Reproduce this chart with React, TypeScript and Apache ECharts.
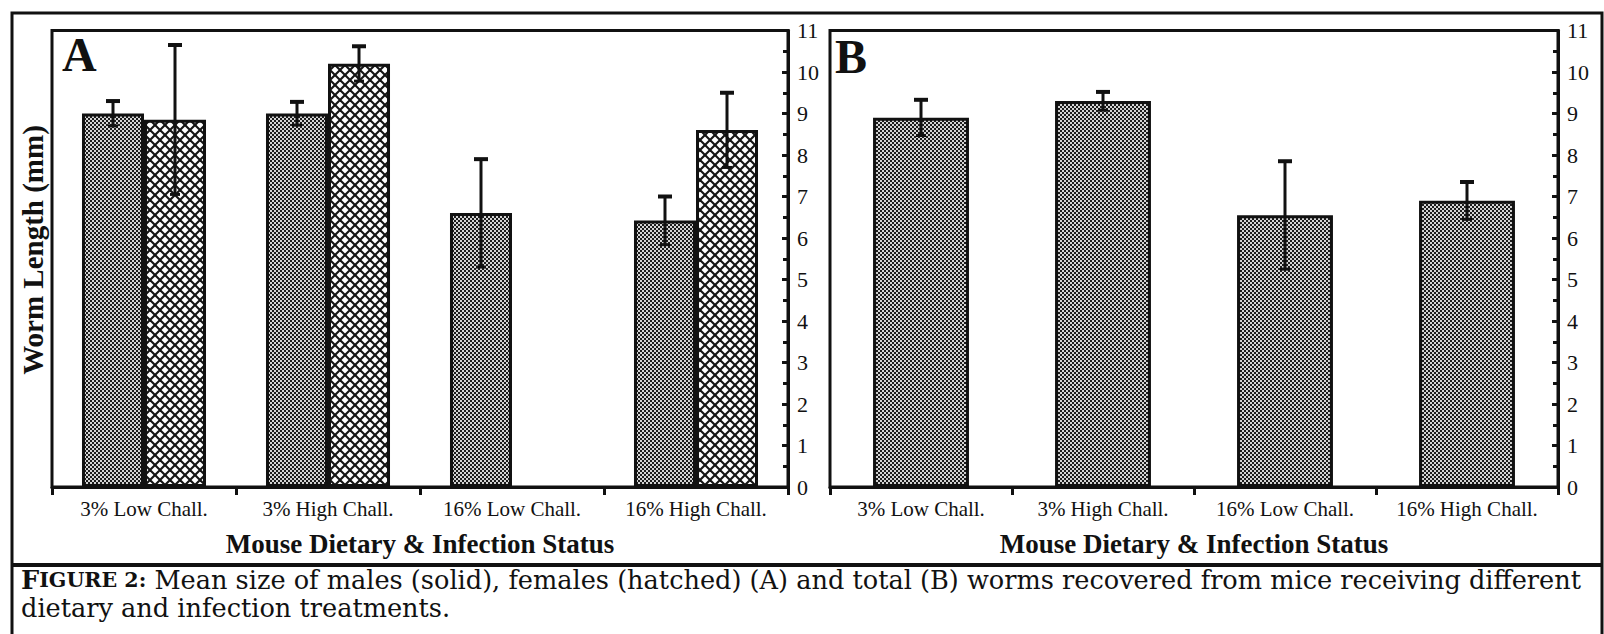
import React, { useEffect, useRef } from "react";
import * as echarts from "echarts";

const categories = ["3% Low Chall.", "3% High Chall.", "16% Low Chall.", "16% High Chall."];
const maleMean: (number | null)[] = [9.0, 9.0, 6.6, 6.42];
const maleErr: (number | null)[] = [0.3, 0.28, 1.3, 0.58];
const femaleMean: (number | null)[] = [8.85, 10.2, null, 8.6];
const femaleErr: (number | null)[] = [1.8, 0.42, null, 0.9];
const totalMean: (number | null)[] = [8.9, 9.3, 6.55, 6.9];
const totalErr: (number | null)[] = [0.43, 0.22, 1.3, 0.45];
const yMin = 0;
const yMax = 11;
const yInterval = 1;
const xTitle = "Mouse Dietary & Infection Status";
const yTitle = "Worm Length (mm)";
const captionLine1Rest =
  " Mean size of males (solid), females (hatched) (A) and total (B) worms recovered from mice receiving different";
const captionLine2 = "dietary and infection treatments.";

const SERIF = "'Liberation Serif', 'Times New Roman', serif";
const CAPTION_FONT = "'DejaVu Serif', serif";
const INK = "#111";

function dotPattern() {
  const c = document.createElement("canvas");
  c.width = 4;
  c.height = 4;
  const ctx = c.getContext("2d")!;
  ctx.fillStyle = "#1c1c1c";
  ctx.fillRect(0, 0, 4, 4);
  ctx.fillStyle = "#d4d4d4";
  ctx.fillRect(0, 0, 2, 2);
  ctx.fillRect(2, 2, 2, 2);
  return { image: c.toDataURL(), repeat: "repeat", imageWidth: 4, imageHeight: 4 };
}

function hatchPattern() {
  const s = 10;
  const c = document.createElement("canvas");
  c.width = s;
  c.height = s;
  const ctx = c.getContext("2d")!;
  ctx.fillStyle = "#ffffff";
  ctx.fillRect(0, 0, s, s);
  ctx.strokeStyle = "#151515";
  ctx.lineWidth = 2.1;
  for (const k of [-s, 0, s]) {
    ctx.beginPath();
    ctx.moveTo(k, 0);
    ctx.lineTo(k + s, s);
    ctx.stroke();
    ctx.beginPath();
    ctx.moveTo(k + s, 0);
    ctx.lineTo(k, s);
    ctx.stroke();
  }
  return { image: c.toDataURL(), repeat: "repeat", imageWidth: s, imageHeight: s };
}

function errData(mean: (number | null)[], err: (number | null)[]) {
  const out: number[][] = [];
  mean.forEach((m, i) => {
    const e = err[i];
    if (m != null && e != null) out.push([i, m - e, m + e]);
  });
  return out;
}

function errSeries(mean: (number | null)[], err: (number | null)[], axisIdx: number, offsetFrac: number) {
  return {
    type: "custom",
    xAxisIndex: axisIdx,
    yAxisIndex: axisIdx,
    z: 10,
    encode: { x: 0, y: [1, 2] },
    data: errData(mean, err),
    renderItem: (params: any, api: any) => {
      const i = api.value(0);
      const lo = api.coord([i, api.value(1)]);
      const hi = api.coord([i, api.value(2)]);
      const bw = api.size([1, 0])[0];
      const x = lo[0] + bw * offsetFrac;
      return {
        type: "group",
        children: [
          { type: "line", shape: { x1: x, y1: lo[1], x2: x, y2: hi[1] }, style: { stroke: INK, lineWidth: 3 } },
          { type: "line", shape: { x1: x - 7, y1: hi[1], x2: x + 7, y2: hi[1] }, style: { stroke: INK, lineWidth: 4 } },
          { type: "line", shape: { x1: x - 5, y1: lo[1], x2: x + 5, y2: lo[1] }, style: { stroke: INK, lineWidth: 3 } },
        ],
      };
    },
  };
}

function xAxisDef(gridIndex: number) {
  return {
    type: "category",
    gridIndex,
    data: categories,
    boundaryGap: true,
    axisLine: { show: true, lineStyle: { color: INK, width: 3 } },
    axisTick: { show: true, length: 8, lineStyle: { color: INK, width: 3 } },
    axisLabel: { interval: 0, hideOverlap: false, fontSize: 21, fontFamily: SERIF, color: INK, margin: 11 },
    name: xTitle,
    nameLocation: "middle",
    nameGap: 43,
    nameTextStyle: { fontSize: 27, fontWeight: "bold", fontFamily: SERIF, color: INK },
  };
}

function yAxisDef(gridIndex: number) {
  return {
    type: "value",
    gridIndex,
    position: "right",
    min: yMin,
    max: yMax,
    interval: yInterval,
    axisLine: { show: true, lineStyle: { color: INK, width: 3 } },
    axisTick: { show: true, inside: true, length: 6, lineStyle: { color: INK, width: 3 } },
    minorTick: { show: true, splitNumber: 2, length: 5, lineStyle: { color: INK, width: 3 } },
    splitLine: { show: false },
    axisLabel: { fontSize: 22, fontFamily: SERIF, color: INK, margin: 9 },
  };
}

export default function App() {
  const ref = useRef<HTMLDivElement>(null);
  useEffect(() => {
    if (!ref.current) return;
    const chart = echarts.init(ref.current, null, { renderer: "svg" });
    const dots = dotPattern();
    const hatch = hatchPattern();
    const gridTop = 30.5;
    const gridH = 456.5;
    chart.setOption({
      animation: false,
      backgroundColor: "#ffffff",
      grid: [
        { left: 52, top: gridTop, width: 736, height: gridH, show: true, borderColor: INK, borderWidth: 3 },
        { left: 830, top: gridTop, width: 728, height: gridH, show: true, borderColor: INK, borderWidth: 3 },
      ],
      xAxis: [xAxisDef(0), xAxisDef(1)],
      yAxis: [yAxisDef(0), yAxisDef(1)],
      series: [
        {
          type: "bar",
          name: "Males",
          xAxisIndex: 0,
          yAxisIndex: 0,
          data: maleMean,
          barWidth: "33.7%",
          barGap: "0%",
          itemStyle: { color: dots, borderColor: INK, borderWidth: 3 },
        },
        {
          type: "bar",
          name: "Females",
          xAxisIndex: 0,
          yAxisIndex: 0,
          data: femaleMean,
          barWidth: "33.7%",
          barGap: "0%",
          itemStyle: { color: hatch, borderColor: INK, borderWidth: 3 },
        },
        {
          type: "bar",
          name: "Total",
          xAxisIndex: 1,
          yAxisIndex: 1,
          data: totalMean,
          barWidth: "52.7%",
          itemStyle: { color: dots, borderColor: INK, borderWidth: 3 },
        },
        errSeries(maleMean, maleErr, 0, -0.1685),
        errSeries(femaleMean, femaleErr, 0, 0.1685),
        errSeries(totalMean, totalErr, 1, 0),
      ],
      graphic: [
        {
          type: "rect",
          shape: { x: 12, y: 13, width: 1590, height: 640 },
          style: { fill: "none", stroke: INK, lineWidth: 3 },
          silent: true,
        },
        {
          type: "line",
          shape: { x1: 12, y1: 565, x2: 1602, y2: 565 },
          style: { stroke: INK, lineWidth: 4 },
        },
        {
          type: "text",
          x: 33,
          y: 250,
          rotation: Math.PI / 2,
          style: {
            text: yTitle,
            fontSize: 29,
            fontWeight: "bold",
            fontFamily: SERIF,
            fill: INK,
            align: "center",
            verticalAlign: "middle",
          },
        },
        {
          type: "text",
          x: 62,
          y: 54,
          style: { text: "A", fontSize: 48, fontWeight: "bold", fontFamily: SERIF, fill: INK, align: "left", verticalAlign: "middle" },
        },
        {
          type: "text",
          x: 835,
          y: 56,
          style: { text: "B", fontSize: 48, fontWeight: "bold", fontFamily: SERIF, fill: INK, align: "left", verticalAlign: "middle" },
        },
        {
          type: "text",
          x: 21,
          y: 580,
          style: {
            text: "{a|F}{b|IGURE 2:}{c|" + captionLine1Rest + "}",
            align: "left",
            verticalAlign: "middle",
            fill: INK,
            rich: {
              a: { fontSize: 25.6, fontWeight: "bold", fontFamily: CAPTION_FONT, fill: INK },
              b: { fontSize: 20.6, fontWeight: "bold", fontFamily: CAPTION_FONT, fill: INK },
              c: { fontSize: 25.6, fontFamily: CAPTION_FONT, fill: INK },
            },
          },
        },
        {
          type: "text",
          x: 21,
          y: 608,
          style: { text: captionLine2, fontSize: 25.6, fontFamily: CAPTION_FONT, fill: INK, align: "left", verticalAlign: "middle" },
        },
      ],
    });
    return () => chart.dispose();
  }, []);
  return (
    <div
      ref={ref}
      style={{ position: "absolute", left: 0, top: 0, width: 1604, height: 634, background: "#fff" }}
    />
  );
}
